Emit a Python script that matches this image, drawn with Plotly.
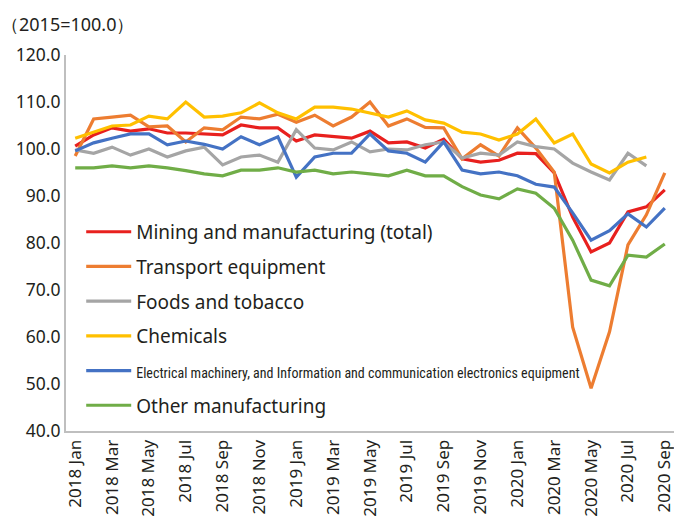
import plotly.graph_objects as go

# Monthly index values, 2018 Jan - 2020 Sep (2015 = 100.0)
months = [f"{y} {m}" for y in (2018, 2019, 2020)
          for m in ("Jan", "Feb", "Mar", "Apr", "May", "Jun",
                    "Jul", "Aug", "Sep", "Oct", "Nov", "Dec")][:33]

mining_total = [100.6, 103.0, 104.5, 103.8, 104.3, 103.4, 103.4, 103.2, 103.0, 105.1, 104.5,
                104.5, 101.7, 103.0, 102.6, 102.3, 103.8, 101.3, 101.5, 100.2, 102.1, 97.9,
                97.2, 97.6, 99.1, 99.0, 94.9, 85.5, 78.1, 80.0, 86.6, 87.7, 91.3]
transport = [98.5, 106.4, 106.8, 107.2, 104.7, 104.9, 101.5, 104.5, 104.1, 106.8, 106.4,
             107.4, 105.7, 107.2, 104.9, 106.8, 110.0, 104.9, 106.4, 104.6, 104.5, 97.9,
             100.9, 98.5, 104.5, 100.2, 95.1, 62.1, 49.1, 61.1, 79.6, 86.0, 94.9]
foods = [99.8, 99.1, 100.4, 98.7, 100.0, 98.3, 99.6, 100.4, 96.6, 98.3, 98.7,
         97.2, 104.1, 100.2, 99.8, 101.5, 99.4, 100.0, 99.8, 100.9, 101.5, 98.1,
         99.1, 98.7, 101.5, 100.5, 100.0, 97.0, 95.1, 93.4, 99.1, 96.4, None]
chemicals = [102.3, 103.6, 104.9, 105.1, 107.0, 106.4, 110.0, 106.8, 107.0, 107.7, 109.8,
             107.7, 106.4, 108.9, 108.9, 108.5, 107.7, 106.8, 108.1, 106.2, 105.5, 103.6,
             103.2, 101.9, 103.2, 106.4, 101.3, 103.2, 96.8, 94.9, 97.2, 98.3, None]
electrical = [99.6, 101.3, 102.3, 103.2, 103.2, 100.9, 101.7, 101.0, 100.0, 102.6, 100.9,
              102.6, 94.0, 98.3, 99.1, 99.1, 103.2, 99.6, 99.1, 97.2, 101.5, 95.5,
              94.7, 95.1, 94.3, 92.5, 91.9, 86.4, 80.6, 82.6, 86.2, 83.4, 87.4]
other_mfg = [96.0, 96.0, 96.4, 96.0, 96.4, 96.0, 95.4, 94.7, 94.3, 95.5, 95.5,
             96.0, 95.1, 95.5, 94.7, 95.1, 94.7, 94.3, 95.5, 94.3, 94.3, 92.0,
             90.2, 89.4, 91.5, 90.6, 87.4, 80.6, 72.1, 70.9, 77.4, 77.0, 79.8]

y_ticks = [40, 50, 60, 70, 80, 90, 100, 110, 120]
x_ticks = months[::2]

series = [
    ("Mining and manufacturing (total)", mining_total, "#E8201E"),
    ("Transport equipment", transport, "#ED7D31"),
    ("Foods and tobacco", foods, "#A5A5A5"),
    ("Chemicals", chemicals, "#FFC000"),
    ("<span style='font-size:14px;font-family:\"Liberation Sans Narrow\",\"Roboto Condensed\",sans-serif'>"
     "Electrical machinery, and Information and communication electronics equipment</span>",
     electrical, "#4472C4"),
    ("Other manufacturing", other_mfg, "#70AD47"),
]

fig = go.Figure()
for i, (name, vals, color) in enumerate(series):
    fig.add_trace(go.Scatter(
        x=months, y=vals, name=name, mode="lines",
        line=dict(color=color, width=3.2),
        legendgroup=f"g{i}",
    ))

font_family = "Noto Sans, Open Sans, sans-serif"
fig.update_layout(
    width=674, height=517,
    margin=dict(l=66, r=0, t=55, b=86),
    paper_bgcolor="white", plot_bgcolor="white",
    font=dict(family=font_family, color="#231F20"),
    showlegend=True,
    legend=dict(
        x=0.025, y=0.58, xanchor="left", yanchor="top",
        bgcolor="rgba(0,0,0,0)",
        font=dict(size=19, color="#231F20"),
        traceorder="grouped", tracegroupgap=7,
        itemwidth=45,
    ),
    xaxis=dict(
        type="category", categoryorder="array", categoryarray=months,
        range=[-0.5, len(months) - 0.5],
        tickmode="array", tickvals=x_ticks, ticktext=x_ticks,
        tickangle=-90, tickfont=dict(size=17, color="#231F20"),
        showgrid=False, showline=True, linecolor="#BFBFBF", linewidth=2,
        ticks="", zeroline=False,
    ),
    yaxis=dict(
        range=[40, 120], tickmode="array", tickvals=y_ticks,
        tickformat=".1f", tickfont=dict(size=17.5, color="#231F20"),
        showgrid=False, showline=True, linecolor="#BFBFBF", linewidth=2,
        ticks="", zeroline=False,
    ),
    annotations=[dict(
        text="（2015=100.0）", xref="paper", yref="paper",
        x=-0.11, y=1.0, xanchor="left", yanchor="bottom", yshift=17,
        showarrow=False, font=dict(size=18, color="#231F20"),
    )],
)

fig.write_html("out.html")
